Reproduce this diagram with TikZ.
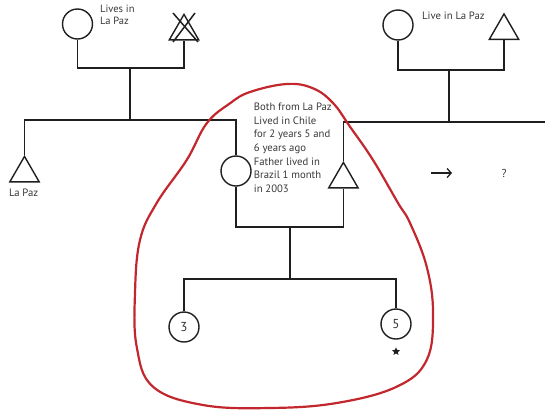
\documentclass[tikz,border=0pt]{standalone}
\usepackage{fontspec}
\setmainfont{PT Sans}
\usetikzlibrary{shapes.geometric,arrows.meta}
\definecolor{loopred}{RGB}{193,39,45}
\begin{document}
\begin{tikzpicture}[x=1pt,y=-1pt,
  line/.style={line width=1.5pt, draw=black!88},
  fem/.style={circle, draw=black!88, line width=1.4pt, minimum size=30pt, inner sep=0pt, font=\fontsize{13}{14}\selectfont, text=black!80},
  mal/.style={regular polygon, regular polygon sides=3, draw=black!88, line width=1.4pt, minimum size=34pt, inner sep=0pt, anchor=north},
  note/.style={align=left, font=\fontsize{10.7}{13.6}\selectfont, text=black!78, inner sep=0pt},
  redloop/.style={draw=loopred, line width=2.2pt}
]
\useasboundingbox (0,0) rectangle (545,410);

% top-left couple
\node[fem] (gm1) at (77.5,24) {};
\node[mal] (gf1) at (184,13) {};
\draw[line] ([shift={(-11,0)}]gf1.north) -- ([shift={(14,29)}]gf1.north);
\draw[line] ([shift={(11,0)}]gf1.north) -- ([shift={(-11,29)}]gf1.north);
\coordinate (c1) at (130,68);
\draw[line] (gm1.south) |- (c1) -| (gf1.south);
\node[note, anchor=north west, font=\fontsize{10.5}{12.7}\selectfont] (t1) at (100,4.5) {Lives in\\La Paz};

% top-right couple
\node[fem] (gm2) at (398,25) {};
\node[mal] (gf2) at (504,12.5) {};
\coordinate (c2) at (449,70);
\draw[line] (gm2.south) |- (c2) -| (gf2.south);
\node[note, anchor=base west] (t2) at (422,19.8) {Live in La Paz};

% sibling line left
\node[mal] (bro) at (24.5,155) {};
\node[note, anchor=base] (t3) at (23.6,196) {La Paz};
\node[fem] (mom) at (236,171) {};
\coordinate (s1) at (130,120);
\draw[line] (bro.north) |- (s1) -| (mom.north);
\draw[line] (c1) -- (s1);

% sibling line right
\node[mal] (dad) at (343.4,161) {};
\coordinate (s2) at (449,122);
\coordinate (redge) at (545,122);
\draw[line] (dad.north) |- (s2) -- (redge);
\draw[line] (c2) -- (s2);

% middle couple
\coordinate (c3) at (290,227);
\draw[line] (mom.south) |- (c3) -| (dad.south);
\node[note, anchor=north west] (t4) at (253.7,103) {Both from La Paz\\Lived in Chile\\for 2 years 5 and\\6 years ago\\Father lived in\\Brazil 1 month\\in 2003};

% children
\coordinate (s3) at (290,279);
\draw[line] (c3) -- (s3);
\node[fem] (k3) at (184,327) {3};
\node[fem] (k5) at (396,324) {5};
\draw[line] (k3.north) |- (s3) -| (k5.north);
\node[star, star points=5, star point ratio=2.2, fill=black!88, inner sep=0pt, minimum size=8.5pt] (st) at (396,351.5) {};

% arrow and question
\coordinate (a1) at (431,173);
\coordinate (a2) at (452,173);
\draw[line width=1.3pt, draw=black!88, -{Straight Barb[length=4pt,width=9pt,line width=1.3pt]}] (a1) -- (a2);
\node[note, font=\fontsize{11.5}{13}\selectfont] (q) at (504,173) {?};

% red loop
\draw[redloop] plot[smooth cycle, tension=0.65] coordinates {
 (286.7,84) (250,92) (230,103.3) (206.7,123.3) (186.7,160) (156.7,203) (140,240) (135,293)
 (136.7,346.7) (153,386.7) (203,405) (270,408) (336.7,403) (396.7,386.7) (426.7,360)
 (433,313) (426.7,266.7) (410,223) (398,203) (373,160) (350,126.7) (333,103) (313,88.3)};
\end{tikzpicture}
\end{document}
